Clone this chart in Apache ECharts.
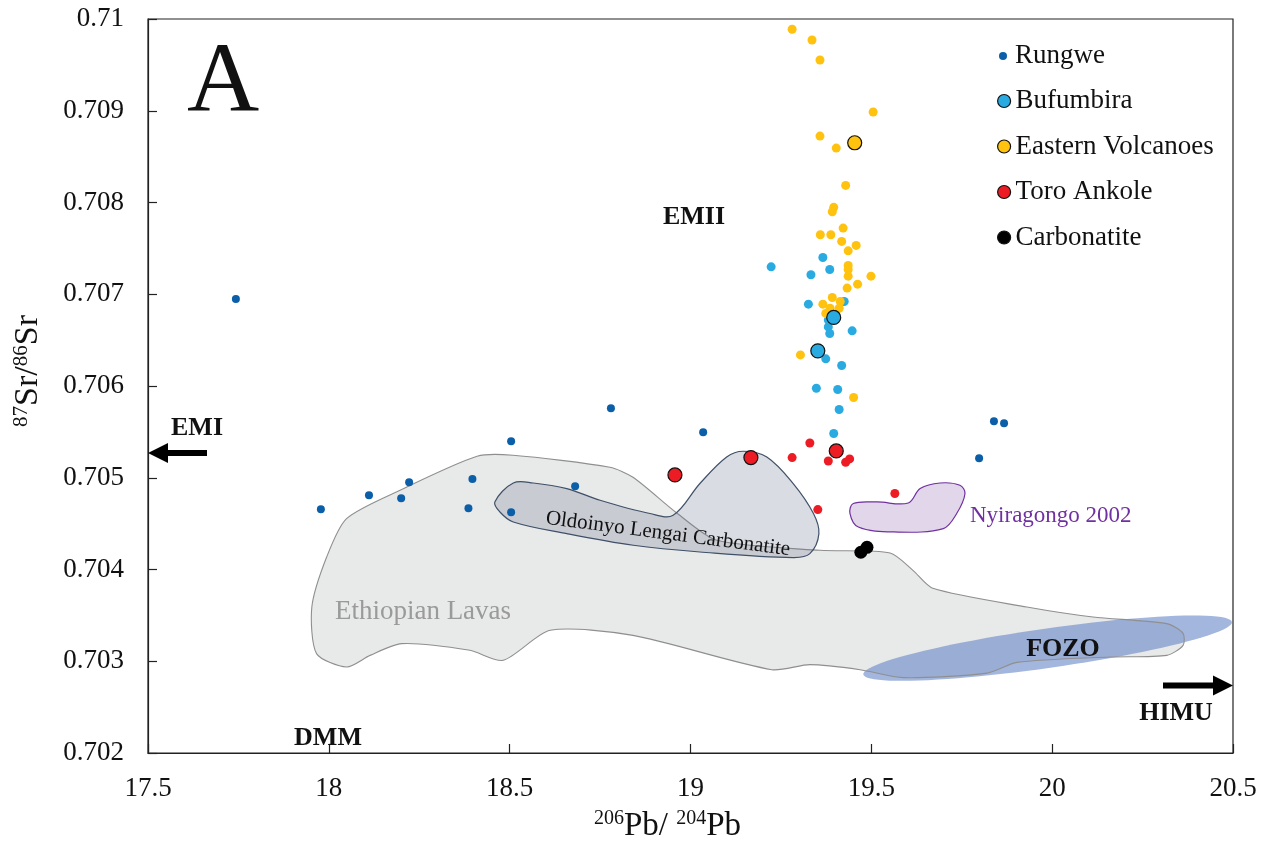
<!DOCTYPE html>
<html><head><meta charset="utf-8">
<script src="https://cdn.jsdelivr.net/npm/echarts@6/dist/echarts.min.js"></script>
<style>html,body{margin:0;padding:0;background:#fff}#c{width:1267px;height:841px}</style>
</head><body><div id="c"></div>
<script>
// ---- axis ticks ----
const xTicks = [17.5, 18, 18.5, 19, 19.5, 20, 20.5];
const xTickLabels = ['17.5', '18', '18.5', '19', '19.5', '20', '20.5'];
const yTicks = [0.702, 0.703, 0.704, 0.705, 0.706, 0.707, 0.708, 0.709, 0.710];
const yTickLabels = ['0.702', '0.703', '0.704', '0.705', '0.706', '0.707', '0.708', '0.709', '0.71'];

// ---- series names ----
const seriesNames = ['Rungwe', 'Bufumbira', 'Eastern Volcanoes', 'Toro Ankole', 'Carbonatite'];

// ---- data: [206Pb/204Pb, 87Sr/86Sr] ----
const rungwe = [
  [17.743, 0.706947], [17.978, 0.704657], [18.111, 0.704809], [18.200, 0.704776],
  [18.222, 0.704951], [18.397, 0.704987], [18.386, 0.704667], [18.504, 0.705398],
  [18.504, 0.704624], [18.681, 0.704907], [18.780, 0.705758], [19.035, 0.705496],
  [19.798, 0.705213], [19.839, 0.705616], [19.867, 0.705594]
];
const bufumbira = [
  [19.223, 0.707299], [19.366, 0.707401], [19.333, 0.707212], [19.385, 0.707270],
  [19.326, 0.706892], [19.425, 0.706921], [19.381, 0.706718], [19.381, 0.706644],
  [19.385, 0.706572], [19.447, 0.706601], [19.374, 0.706296], [19.418, 0.706224],
  [19.348, 0.705976], [19.407, 0.705962], [19.411, 0.705744], [19.396, 0.705482]
];
const bufumbiraBig = [[19.396, 0.706747], [19.352, 0.706383]];
const easternVolcanoes = [
  [19.281, 0.709888], [19.336, 0.709771], [19.358, 0.709553], [19.505, 0.708986],
  [19.358, 0.708724], [19.403, 0.708593], [19.429, 0.708186], [19.396, 0.707947],
  [19.392, 0.707899], [19.422, 0.707721], [19.359, 0.707648], [19.388, 0.707648],
  [19.418, 0.707576], [19.458, 0.707532], [19.436, 0.707473], [19.436, 0.707314],
  [19.436, 0.707270], [19.436, 0.707197], [19.499, 0.707197], [19.462, 0.707110],
  [19.433, 0.707067], [19.392, 0.706965], [19.414, 0.706921], [19.366, 0.706892],
  [19.411, 0.706848], [19.386, 0.706848], [19.374, 0.706791], [19.304, 0.706339],
  [19.451, 0.705875]
];
const easternVolcanoesBig = [[19.454, 0.708651]];
const toroAnkole = [
  [19.281, 0.705220], [19.330, 0.705379], [19.381, 0.705183], [19.429, 0.705169],
  [19.440, 0.705205], [19.352, 0.704653], [19.565, 0.704828]
];
const toroAnkoleBig = [[18.957, 0.705031], [19.167, 0.705220], [19.403, 0.705292]];
const carbonatite = [[19.471, 0.704188], [19.488, 0.704242]];

// ---- fields (polygon outlines in data units) ----
const ethiopianLavas = [
  [18.049, 0.704555], [18.197, 0.704864], [18.410, 0.705234], [18.509, 0.705245],
  [18.777, 0.705114], [18.841, 0.705005], [18.963, 0.704613], [19.073, 0.704318],
  [19.358, 0.704209], [19.552, 0.704180], [19.615, 0.703991], [19.670, 0.703795],
  [19.930, 0.703591], [20.113, 0.703482], [20.317, 0.703410], [20.362, 0.703304],
  [20.362, 0.703173], [20.317, 0.703064], [20.160, 0.703046], [19.903, 0.702988],
  [19.820, 0.702871], [19.588, 0.702821], [19.469, 0.702908], [19.330, 0.702963],
  [19.225, 0.702908], [18.841, 0.703282], [18.612, 0.703337], [18.482, 0.703010],
  [18.390, 0.703119], [18.201, 0.703192], [18.114, 0.703064], [18.049, 0.702937],
  [17.966, 0.703083], [17.953, 0.703591], [17.994, 0.704136]
];
const oldoinyoLengai = [
  [18.510, 0.704943], [18.459, 0.704736], [18.473, 0.704627], [18.510, 0.704518],
  [18.658, 0.704391], [18.842, 0.704264], [19.026, 0.704191], [19.284, 0.704130],
  [19.330, 0.704173], [19.355, 0.704391], [19.340, 0.704610], [19.284, 0.704937],
  [19.211, 0.705227], [19.146, 0.705289], [19.100, 0.705227], [19.026, 0.704937],
  [18.952, 0.704591], [18.888, 0.704610], [18.750, 0.704755], [18.658, 0.704882],
  [18.565, 0.704943]
];
const nyiragongo2002 = [
  [19.450, 0.704719], [19.441, 0.704610], [19.464, 0.704463], [19.561, 0.704409],
  [19.699, 0.704446], [19.736, 0.704610], [19.759, 0.704828], [19.745, 0.704918],
  [19.690, 0.704943], [19.635, 0.704882], [19.602, 0.704725], [19.515, 0.704736]
];
const fozoAxis = [[19.478, 0.702857], [20.497, 0.703428]];
const fozoHalfWidth = 0.000215;

// ---- styling ----
const SERIF = "'Liberation Serif', 'Times New Roman', serif";
const C_RUN = '#0b5ea8', C_BUF = '#29abe2', C_EAST = '#ffc20e', C_TORO = '#ed1c24', C_CARB = '#000000';

function polygonSeries(name, pts, style, smooth, z) {
  return {
    type: 'custom', name: name, silent: true, z: z, coordinateSystem: 'cartesian2d',
    data: [pts[0]], clip: true,
    renderItem: function (params, api) {
      return { type: 'polygon', shape: { points: pts.map(function (p) { return api.coord(p); }), smooth: smooth }, style: style };
    }
  };
}

const fozoSeries = {
  type: 'custom', name: 'FOZO', silent: true, z: 2, coordinateSystem: 'cartesian2d',
  data: [fozoAxis[0]], clip: true,
  renderItem: function (params, api) {
    const a = api.coord(fozoAxis[0]), b = api.coord(fozoAxis[1]);
    const cx = (a[0] + b[0]) / 2, cy = (a[1] + b[1]) / 2;
    const ra = Math.hypot(b[0] - a[0], b[1] - a[1]) / 2;
    const rb = api.size([0, fozoHalfWidth])[1];
    const ang = Math.atan2(b[1] - a[1], b[0] - a[0]);
    const pts = [];
    for (let i = 0; i < 96; i++) {
      const t = i / 96 * 2 * Math.PI;
      const ex = ra * Math.cos(t), ey = rb * Math.sin(t);
      pts.push([cx + ex * Math.cos(ang) - ey * Math.sin(ang), cy + ex * Math.sin(ang) + ey * Math.cos(ang)]);
    }
    return { type: 'polygon', shape: { points: pts }, style: { fill: 'rgba(102,133,198,0.6)' } };
  }
};

function scatter(name, data, color, size, border, z) {
  return {
    type: 'scatter', name: name, data: data, symbol: 'circle', symbolSize: size, z: z,
    itemStyle: { color: color, borderColor: border ? '#111' : color, borderWidth: border ? 1.2 : 0, opacity: 1 },
    emphasis: { disabled: true }
  };
}

const chart = echarts.init(document.getElementById('c'), null, { renderer: 'canvas' });
const legendText = { fontFamily: SERIF, fontSize: 27, color: '#111', lineHeight: 27 };

chart.setOption({
  animation: false,
  backgroundColor: '#fff',
  grid: { left: 148, right: 34, top: 19, bottom: 88, outerBoundsMode: 'none', containLabel: false,
    show: true, borderColor: '#222', borderWidth: 1.2, backgroundColor: 'transparent' },
  xAxis: {
    type: 'value', min: xTicks[0], max: xTicks[xTicks.length - 1], interval: 0.5,
    name: '{s|206}{m|Pb/ }{s|204}{m|Pb}', nameLocation: 'middle', nameGap: 56,
    nameTextStyle: { padding: [0, 46, 0, 0], rich: {
      s: { fontFamily: SERIF, fontSize: 20, color: '#111', verticalAlign: 'top', lineHeight: 34 },
      m: { fontFamily: SERIF, fontSize: 33, color: '#111', lineHeight: 34 } } },
    axisLine: { show: true, lineStyle: { color: '#222', width: 1.2 } },
    axisTick: { show: true, inside: true, length: 9, lineStyle: { color: '#222', width: 1.2 } },
    axisLabel: { fontFamily: SERIF, fontSize: 27, color: '#111', margin: 22,
      formatter: function (v) { const i = xTicks.findIndex(function (t) { return Math.abs(t - v) < 1e-6; }); return i >= 0 ? xTickLabels[i] : ''; } },
    splitLine: { show: false }
  },
  yAxis: {
    type: 'value', min: yTicks[0], max: yTicks[yTicks.length - 1], interval: 0.001,
    name: '{s|87}{m|Sr/}{s|86}{m|Sr}', nameLocation: 'middle', nameRotate: 90, nameGap: 102,
    nameTextStyle: { padding: [0, 0, 0, 30], rich: {
      s: { fontFamily: SERIF, fontSize: 21, color: '#111', verticalAlign: 'top', lineHeight: 35 },
      m: { fontFamily: SERIF, fontSize: 34, color: '#111', lineHeight: 35 } } },
    axisLine: { show: true, lineStyle: { color: '#222', width: 1.2 } },
    axisTick: { show: true, inside: true, length: 9, lineStyle: { color: '#222', width: 1.2 } },
    axisLabel: { fontFamily: SERIF, fontSize: 27, color: '#111', margin: 24,
      formatter: function (v) { const i = yTicks.findIndex(function (t) { return Math.abs(t - v) < 1e-7; }); return i >= 0 ? yTickLabels[i] : ''; } },
    splitLine: { show: false }
  },
  legend: [
    { data: [{ name: seriesNames[0] }], orient: 'vertical', left: 994, top: 37.5, itemWidth: 8, itemHeight: 8,
      icon: 'circle', selectedMode: false, textStyle: Object.assign({}, legendText, { padding: [0, 0, 0, 3] }) },
    { data: [
        { name: seriesNames[1], itemStyle: { borderColor: '#111', borderWidth: 1.2 } },
        { name: seriesNames[2], itemStyle: { borderColor: '#111', borderWidth: 1.2 } },
        { name: seriesNames[3], itemStyle: { borderColor: '#111', borderWidth: 1.2 } },
        { name: seriesNames[4], itemStyle: { borderColor: '#111', borderWidth: 1.2 } } ],
      orient: 'vertical', left: 992, top: 82.5, itemWidth: 13, itemHeight: 13, itemGap: 18.5,
      icon: 'circle', selectedMode: false, textStyle: legendText }
  ],
  graphic: [
    { type: 'text', x: 223, y: 85, z: 100, style: { text: 'A', font: '100px ' + SERIF, fill: '#111', textAlign: 'center', textVerticalAlign: 'middle' } },
    { type: 'text', x: 694, y: 217, z: 100, style: { text: 'EMII', font: 'bold 26px ' + SERIF, fill: '#111', textAlign: 'center', textVerticalAlign: 'middle' } },
    { type: 'text', x: 197, y: 428, z: 100, style: { text: 'EMI', font: 'bold 26px ' + SERIF, fill: '#111', textAlign: 'center', textVerticalAlign: 'middle' } },
    { type: 'text', x: 328, y: 738, z: 100, style: { text: 'DMM', font: 'bold 26px ' + SERIF, fill: '#111', textAlign: 'center', textVerticalAlign: 'middle' } },
    { type: 'text', x: 1176, y: 713, z: 100, style: { text: 'HIMU', font: 'bold 26px ' + SERIF, fill: '#111', textAlign: 'center', textVerticalAlign: 'middle' } },
    { type: 'text', x: 1063, y: 649, z: 100, style: { text: 'FOZO', font: 'bold 26px ' + SERIF, fill: '#111', textAlign: 'center', textVerticalAlign: 'middle' } },
    { type: 'text', x: 423, y: 612, z: 100, style: { text: 'Ethiopian Lavas', font: '27px ' + SERIF, fill: '#9a9a9a', textAlign: 'center', textVerticalAlign: 'middle' } },
    { type: 'text', x: 668, y: 534, z: 100, rotation: -0.128, style: { text: 'Oldoinyo Lengai Carbonatite', font: '21px ' + SERIF, fill: '#111', textAlign: 'center', textVerticalAlign: 'middle' } },
    { type: 'text', x: 970, y: 516, z: 100, style: { text: 'Nyiragongo 2002', font: '23px ' + SERIF, fill: '#7030a0', textAlign: 'left', textVerticalAlign: 'middle' } },
    { type: 'rect', z: 100, shape: { x: 164, y: 450, width: 43, height: 6 }, style: { fill: '#000' } },
    { type: 'polygon', z: 100, shape: { points: [[148, 453], [168, 443], [168, 463]] }, style: { fill: '#000' } },
    { type: 'rect', z: 100, shape: { x: 1163, y: 682.5, width: 52, height: 6 }, style: { fill: '#000' } },
    { type: 'polygon', z: 100, shape: { points: [[1233, 685.5], [1213, 675.5], [1213, 695.5]] }, style: { fill: '#000' } }
  ],
  series: [
    polygonSeries('Ethiopian Lavas', ethiopianLavas, { fill: '#e8e9e9', stroke: 'none' }, 0.25, 1),
    fozoSeries,
    polygonSeries('Ethiopian Lavas outline', ethiopianLavas, { fill: 'none', stroke: '#8f8f8f', lineWidth: 1.1 }, 0.25, 3),
    polygonSeries('Oldoinyo Lengai Carbonatite', oldoinyoLengai, { fill: 'rgba(103,115,139,0.25)', stroke: '#3f5068', lineWidth: 1.2 }, 0.35, 4),
    polygonSeries('Nyiragongo 2002', nyiragongo2002, { fill: '#e2d6ea', stroke: '#7030a0', lineWidth: 1.2 }, 0.35, 4),
    scatter(seriesNames[0], rungwe, C_RUN, 8, false, 10),
    scatter(seriesNames[1], bufumbira, C_BUF, 9, false, 11),
    scatter(seriesNames[2], easternVolcanoes, C_EAST, 9, false, 12),
    scatter(seriesNames[3], toroAnkole, C_TORO, 9, false, 13),
    scatter(seriesNames[1], bufumbiraBig, C_BUF, 14, true, 14),
    scatter(seriesNames[2], easternVolcanoesBig, C_EAST, 14, true, 14),
    scatter(seriesNames[3], toroAnkoleBig, C_TORO, 14, true, 14),
    scatter(seriesNames[4], carbonatite, C_CARB, 13, false, 15)
  ]
});
</script>
</body></html>
